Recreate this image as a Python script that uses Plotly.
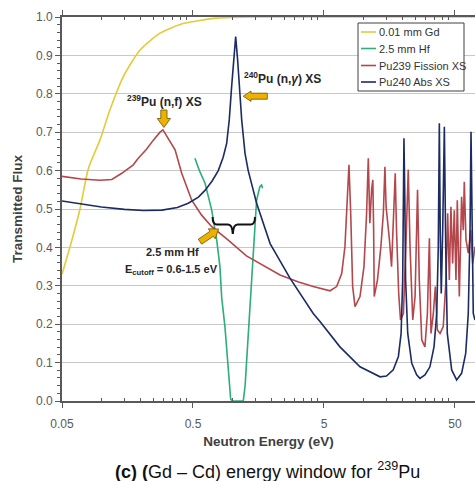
import plotly.graph_objects as go

# ---------------- data ----------------
gd_energy = [0.05, 0.0596, 0.0686, 0.0794, 0.0975, 0.116, 0.147, 0.197, 0.28, 0.42, 0.76, 1.5, 5.0, 20.0, 71.0]
gd_trans = [0.33, 0.42, 0.50, 0.605, 0.68, 0.758, 0.845, 0.914, 0.958, 0.983, 0.997, 1.0, 1.0, 1.0, 1.0]

hf_energy = [0.517, 0.56, 0.618, 0.695, 0.72, 0.759, 0.803, 0.828, 0.877, 0.921, 0.95, 0.97, 1.0, 1.1, 1.21,
             1.25, 1.285, 1.36, 1.443, 1.53, 1.62, 1.67, 1.70]
hf_trans = [0.632, 0.60, 0.567, 0.497, 0.465, 0.419, 0.35, 0.27, 0.193, 0.089, 0.03, 0.005, 0.0, 0.0, 0.0,
            0.04, 0.107, 0.237, 0.41, 0.523, 0.558, 0.5625, 0.554]

pu239_energy = [0.05, 0.07, 0.0975, 0.12, 0.143, 0.175, 0.191, 0.22, 0.25, 0.28, 0.295, 0.322, 0.365, 0.41,
                0.489, 0.582, 0.695, 0.929, 1.28, 2.31, 3.2, 4.14, 4.66, 5.24, 5.56, 6.25, 6.83, 7.23, 7.53,
                7.76, 8.0, 8.28, 8.63, 9.42, 10.1, 10.58, 10.9, 11.2, 11.55, 11.8, 11.97, 12.1, 12.8, 13.6,
                14.2, 14.6, 14.9, 15.2, 15.8, 16.4, 17.1, 17.5, 17.9, 18.6, 19.2, 20.2, 21.1, 22.0, 22.7,
                23.8, 24.8, 25.9, 26.7, 27.9, 29.5, 30.8, 31.9, 32.8, 34.2, 35.4, 36.7, 38.5, 40.7, 42.7,
                44.0, 45.3, 46.6, 48.0, 49.4, 50.9, 52.1, 54.0, 56.2, 57.9, 58.9, 60.7, 63.2, 65.9, 68.3, 71.1]
pu239_trans = [0.585, 0.578, 0.575, 0.577, 0.593, 0.615, 0.632, 0.655, 0.68, 0.70, 0.706, 0.685, 0.654, 0.593,
               0.523, 0.484, 0.454, 0.419, 0.378, 0.328, 0.31, 0.298, 0.293, 0.289, 0.287, 0.298, 0.332, 0.402, 0.532,
               0.615, 0.489, 0.298, 0.246, 0.272, 0.35, 0.489, 0.632, 0.463, 0.55, 0.576, 0.445, 0.272, 0.315, 0.402,
               0.489, 0.61, 0.506, 0.48, 0.42, 0.35, 0.489, 0.593, 0.445, 0.28, 0.211, 0.228, 0.402, 0.603, 0.402,
               0.211, 0.272, 0.55, 0.315, 0.159, 0.141, 0.228, 0.424, 0.176, 0.228, 0.298, 0.185, 0.176, 0.194, 0.315,
               0.489, 0.315, 0.506, 0.358, 0.497, 0.315, 0.523, 0.272, 0.532, 0.445, 0.571, 0.42, 0.385, 0.445, 0.358, 0.402]

pu240_energy = [0.05, 0.075, 0.1, 0.15, 0.21, 0.29, 0.38, 0.46, 0.55, 0.62, 0.70, 0.78, 0.85, 0.904, 0.946,
                0.986, 1.02, 1.059, 1.095, 1.128, 1.177, 1.248, 1.32, 1.53, 1.94, 2.75, 4.14, 4.66, 6.62, 9.42,
                13.4, 15.0, 16.9, 18.5, 19.4, 19.95, 20.2, 20.4, 20.7, 21.0, 21.8, 23.4, 25.5, 27.0, 29.5, 32.2,
                34.6, 36.3, 37.3, 38.0, 38.6, 39.3, 40.3, 41.5, 42.5, 43.7, 47.2, 51.5, 56.2, 60.4, 63.2, 65.2,
                66.3, 67.4, 69.0, 71.1]
pu240_trans = [0.521, 0.512, 0.505, 0.499, 0.496, 0.497, 0.504, 0.515, 0.531, 0.549, 0.573, 0.60, 0.635, 0.671, 0.732,
               0.818, 0.89, 0.949, 0.89, 0.818, 0.732, 0.645, 0.60, 0.515, 0.41, 0.32, 0.228, 0.207, 0.141, 0.089,
               0.063, 0.065, 0.081, 0.116, 0.176, 0.315, 0.532, 0.684, 0.532, 0.315, 0.176, 0.098, 0.068, 0.059, 0.068, 0.089,
               0.141, 0.228, 0.402, 0.723, 0.445, 0.28, 0.445, 0.714, 0.402, 0.176, 0.081, 0.055, 0.072, 0.124, 0.228, 0.445,
               0.701, 0.445, 0.228, 0.211]

series_names = ["0.01 mm Gd", "2.5 mm Hf", "Pu239 Fission XS", "Pu240 Abs XS"]
series_colors = ["#E3CB3A", "#2DAE7A", "#B4474C", "#1C2B63"]

x_tick_vals = [0.05, 0.5, 5, 50]
x_tick_text = ["0.05", "0.5", "5", "50"]
x_minor_vals = [0.1, 0.15, 0.2, 0.25, 0.3, 0.35, 0.4, 0.45, 1, 1.5, 2, 2.5, 3, 3.5, 4, 4.5,
                10, 15, 20, 25, 30, 35, 40, 45]
y_tick_vals = [0.0, 0.1, 0.2, 0.3, 0.4, 0.5, 0.6, 0.7, 0.8, 0.9, 1.0]
y_tick_text = ["0.0", "0.1", "0.2", "0.3", "0.4", "0.5", "0.6", "0.7", "0.8", "0.9", "1.0"]

# ---------------- layout geometry ----------------
W, H = 475, 481
L, R, T, B = 62, 0, 17, 80
PW, PH = W - L - R, H - T - B
FONT = "Arial, Liberation Sans, sans-serif"


def px(x):
    return (x - L) / PW


def py(y):
    return (T + PH - y) / PH


def path(points, close=True):
    s = "M " + " L ".join(f"{px(a):.5f},{py(b):.5f}" for a, b in points)
    return s + (" Z" if close else "")


fig = go.Figure()
xs = [gd_energy, hf_energy, pu239_energy, pu240_energy]
ys = [gd_trans, hf_trans, pu239_trans, pu240_trans]
for i in range(4):
    fig.add_trace(go.Scatter(
        x=xs[i], y=ys[i], mode="lines", name=series_names[i], showlegend=False,
        line=dict(color=series_colors[i], width=1.6, shape="spline" if i == 0 else "linear",
                  smoothing=0.6 if i == 0 else None),
    ))

arrow_fill = "#EDB200"
arrow_line = "#6B5200"
shapes = []
# down arrow (239Pu)
shapes.append(dict(type="path", xref="paper", yref="paper",
                   path=path([(160.8, 110), (167.0, 110), (167.0, 118.5), (170.5, 118.5), (163.9, 127.5),
                              (157.3, 118.5), (160.8, 118.5)]),
                   fillcolor=arrow_fill, line=dict(color=arrow_line, width=0.8)))
# left arrow (240Pu)
shapes.append(dict(type="path", xref="paper", yref="paper",
                   path=path([(267.3, 93.2), (251.0, 93.2), (251.0, 91.0), (243.3, 96.2), (251.0, 101.4),
                              (251.0, 99.2), (267.3, 99.2)]),
                   fillcolor=arrow_fill, line=dict(color=arrow_line, width=0.8)))
# diagonal arrow (Hf)
shapes.append(dict(type="path", xref="paper", yref="paper",
                   path=path([(201.7, 244.2), (213.4, 236.3), (215.1, 238.8), (218.6, 229.0), (208.3, 228.8),
                              (210.0, 231.3), (198.3, 239.2)]),
                   fillcolor=arrow_fill, line=dict(color=arrow_line, width=0.8)))
# brace
bp = (f"M {px(212.6):.5f},{py(217):.5f} Q {px(212.6):.5f},{py(224.6):.5f} {px(217):.5f},{py(224.6):.5f} "
      f"L {px(228):.5f},{py(224.6):.5f} Q {px(232.3):.5f},{py(224.6):.5f} {px(232.8):.5f},{py(234):.5f} "
      f"Q {px(233.3):.5f},{py(224.6):.5f} {px(237.6):.5f},{py(224.6):.5f} "
      f"L {px(250.6):.5f},{py(224.6):.5f} Q {px(255):.5f},{py(224.6):.5f} {px(255):.5f},{py(217):.5f}")
shapes.append(dict(type="path", xref="paper", yref="paper", path=bp,
                   line=dict(color="#111111", width=2)))

# legend box (drawn by hand to match the compact original legend)
shapes.append(dict(type="rect", xref="paper", yref="paper",
                   x0=px(358), x1=px(464), y0=py(91), y1=py(23),
                   fillcolor="white", line=dict(color="#404040", width=1)))
legend_rows = [32, 48.5, 65.5, 82]

annotations = [
    dict(text="<b><sup>239</sup>Pu (n,f) XS</b>", x=px(164), y=py(101)),
    dict(text="<b><sup>240</sup>Pu (n,<i>γ</i>) XS</b>", x=px(282.5), y=py(78)),
    dict(text="<b>2.5 mm Hf</b>", x=px(172), y=py(252), font=dict(family=FONT, size=11, color="#262626")),
    dict(text="<b>E<sub>cutoff</sub> = 0.6-1.5 eV</b>", x=px(171.5), y=py(270),
         font=dict(family=FONT, size=11, color="#262626")),
    dict(text="<b>(c)</b> <b>(</b>Gd – Cd) energy window for <sup>239</sup>Pu", x=px(267.5), y=py(470),
         font=dict(family=FONT, size=18, color="#111111")),
]
for a in annotations:
    a.setdefault("font", dict(family=FONT, size=12, color="#262626"))
    a.update(xref="paper", yref="paper", showarrow=False, xanchor="center", yanchor="middle")

for i in range(4):
    shapes.append(dict(type="line", xref="paper", yref="paper",
                       x0=px(361), x1=px(376), y0=py(legend_rows[i]), y1=py(legend_rows[i]),
                       line=dict(color=series_colors[i], width=1.6)))
    annotations.append(dict(text=series_names[i], x=px(377), y=py(legend_rows[i]), xref="paper", yref="paper",
                            showarrow=False, xanchor="left", yanchor="middle",
                            font=dict(family=FONT, size=11, color="#333333")))

fig.update_layout(
    width=W, height=H,
    margin=dict(l=L, r=R, t=T, b=B, pad=0, autoexpand=False),
    paper_bgcolor="white", plot_bgcolor="white",
    font=dict(family=FONT, size=12, color="#595959"),
    showlegend=False,
    shapes=shapes,
    annotations=annotations,
)

fig.update_xaxes(
    type="log", range=[-1.30103, 1.852], automargin=False,
    tickmode="array", tickvals=x_tick_vals, ticktext=x_tick_text,
    ticks="outside", ticklen=5, tickwidth=1.2, tickcolor="#595959",
    ticklabelstandoff=6,
    minor=dict(tickmode="array", tickvals=x_minor_vals, ticks="inside", ticklen=3, tickcolor="#595959",
               showgrid=False),
    showgrid=False, zeroline=False,
    showline=True, linecolor="#595959", linewidth=1.6, mirror="allticks",
    tickfont=dict(family=FONT, size=12, color="#595959"),
    title=dict(text="<b>Neutron Energy (eV)</b>", standoff=6,
               font=dict(family=FONT, size=13.5, color="#404040")),
)
fig.update_yaxes(
    range=[0, 1.0], automargin=False,
    tickmode="array", tickvals=y_tick_vals, ticktext=y_tick_text,
    ticks="outside", ticklen=5, tickwidth=1.2, tickcolor="#595959",
    minor=dict(dtick=0.02, ticks="outside", ticklen=3, tickcolor="#595959", showgrid=False),
    showgrid=True, gridcolor="#C8C8C8", gridwidth=1, zeroline=False,
    showline=True, linecolor="#595959", linewidth=1.6,
    tickfont=dict(family=FONT, size=12, color="#595959"),
    title=dict(text="<b>Transmitted Flux</b>", standoff=10,
               font=dict(family=FONT, size=13.5, color="#404040")),
)

fig.write_html("out.html",
               config={"displayModeBar": False},
               post_script="document.body.style.margin='0';document.body.style.padding='0';"
                           "document.documentElement.style.overflow='hidden';")
